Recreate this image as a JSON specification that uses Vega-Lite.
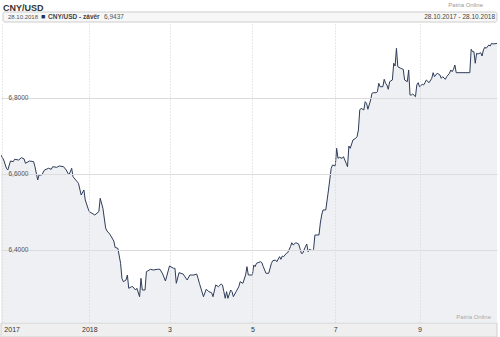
{
  "$schema": "https://vega.github.io/schema/vega-lite/v6.json",
  "width": 496,
  "height": 299,
  "autosize": {"type": "none"},
  "padding": {"left": 1, "top": 24, "right": 3, "bottom": 14},
  "background": "white",
  "config": {"view": {"stroke": null}, "font": "Liberation Sans"},
  "data": {"values": [
    {"d":"2017-10-28","v":6.65},{"d":"2017-10-30","v":6.6368},{"d":"2017-11-01","v":6.615},{"d":"2017-11-02","v":6.6105},
    {"d":"2017-11-04","v":6.6342},{"d":"2017-11-06","v":6.6324},{"d":"2017-11-07","v":6.6387},{"d":"2017-11-10","v":6.6368},
    {"d":"2017-11-12","v":6.6429},{"d":"2017-11-14","v":6.6395},{"d":"2017-11-15","v":6.6282},{"d":"2017-11-18","v":6.6342},
    {"d":"2017-11-21","v":6.6324},{"d":"2017-11-22","v":6.6192},{"d":"2017-11-24","v":6.5842},{"d":"2017-11-25","v":6.5974},
    {"d":"2017-11-27","v":6.5974},{"d":"2017-11-29","v":6.6105},{"d":"2017-12-02","v":6.615},{"d":"2017-12-04","v":6.6124},
    {"d":"2017-12-05","v":6.6192},{"d":"2017-12-08","v":6.6176},{"d":"2017-12-10","v":6.6211},{"d":"2017-12-13","v":6.6192},
    {"d":"2017-12-15","v":6.6105},{"d":"2017-12-17","v":6.5974},{"d":"2017-12-19","v":6.615},{"d":"2017-12-20","v":6.5929},
    {"d":"2017-12-23","v":6.5797},{"d":"2017-12-24","v":6.5755},{"d":"2017-12-26","v":6.5447},{"d":"2017-12-28","v":6.5579},
    {"d":"2017-12-29","v":6.5316},{"d":"2017-12-31","v":6.5097},{"d":"2018-01-01","v":6.5008},{"d":"2018-01-05","v":6.4921},
    {"d":"2018-01-08","v":6.5008},{"d":"2018-01-09","v":6.5361},{"d":"2018-01-11","v":6.5097},{"d":"2018-01-13","v":6.4579},
    {"d":"2018-01-14","v":6.45},{"d":"2018-01-16","v":6.4421},{"d":"2018-01-19","v":6.4237},{"d":"2018-01-20","v":6.4066},
    {"d":"2018-01-22","v":6.4045},{"d":"2018-01-24","v":6.365},{"d":"2018-01-25","v":6.3255},{"d":"2018-01-26","v":6.3166},
    {"d":"2018-01-28","v":6.3211},{"d":"2018-01-29","v":6.3342},{"d":"2018-01-30","v":6.2992},{"d":"2018-02-01","v":6.3034},
    {"d":"2018-02-02","v":6.3034},{"d":"2018-02-04","v":6.2947},{"d":"2018-02-05","v":6.2992},{"d":"2018-02-07","v":6.2771},
    {"d":"2018-02-08","v":6.3255},{"d":"2018-02-09","v":6.2947},{"d":"2018-02-11","v":6.2947},{"d":"2018-02-12","v":6.3429},
    {"d":"2018-02-15","v":6.3492},{"d":"2018-02-17","v":6.3474},{"d":"2018-02-20","v":6.3492},{"d":"2018-02-22","v":6.3492},
    {"d":"2018-02-24","v":6.3368},{"d":"2018-02-26","v":6.3184},{"d":"2018-03-01","v":6.3579},{"d":"2018-03-04","v":6.3518},
    {"d":"2018-03-05","v":6.3518},{"d":"2018-03-06","v":6.3124},{"d":"2018-03-08","v":6.3403},{"d":"2018-03-11","v":6.3368},
    {"d":"2018-03-14","v":6.3211},{"d":"2018-03-16","v":6.3342},{"d":"2018-03-19","v":6.3342},{"d":"2018-03-21","v":6.3368},
    {"d":"2018-03-22","v":6.3255},{"d":"2018-03-23","v":6.3124},{"d":"2018-03-26","v":6.2771},{"d":"2018-03-28","v":6.2966},
    {"d":"2018-03-30","v":6.2903},{"d":"2018-04-01","v":6.2876},{"d":"2018-04-02","v":6.2771},{"d":"2018-04-04","v":6.3079},
    {"d":"2018-04-06","v":6.3034},{"d":"2018-04-08","v":6.3105},{"d":"2018-04-09","v":6.3079},{"d":"2018-04-10","v":6.2903},
    {"d":"2018-04-11","v":6.2729},{"d":"2018-04-12","v":6.2903},{"d":"2018-04-13","v":6.2729},{"d":"2018-04-15","v":6.2947},
    {"d":"2018-04-16","v":6.2903},{"d":"2018-04-17","v":6.2771},{"d":"2018-04-19","v":6.2903},{"d":"2018-04-21","v":6.3034},
    {"d":"2018-04-22","v":6.3166},{"d":"2018-04-24","v":6.3124},{"d":"2018-04-26","v":6.3342},{"d":"2018-04-27","v":6.3561},
    {"d":"2018-04-28","v":6.3342},{"d":"2018-05-01","v":6.3342},{"d":"2018-05-02","v":6.3605},{"d":"2018-05-03","v":6.3561},
    {"d":"2018-05-04","v":6.365},{"d":"2018-05-07","v":6.3692},{"d":"2018-05-08","v":6.3666},{"d":"2018-05-09","v":6.3561},
    {"d":"2018-05-11","v":6.3387},{"d":"2018-05-13","v":6.3387},{"d":"2018-05-15","v":6.365},{"d":"2018-05-16","v":6.3718},
    {"d":"2018-05-18","v":6.3737},{"d":"2018-05-19","v":6.3692},{"d":"2018-05-21","v":6.3824},{"d":"2018-05-22","v":6.3755},
    {"d":"2018-05-23","v":6.3842},{"d":"2018-05-24","v":6.3824},{"d":"2018-05-26","v":6.3913},{"d":"2018-05-27","v":6.3929},
    {"d":"2018-05-29","v":6.4087},{"d":"2018-05-30","v":6.4192},{"d":"2018-05-31","v":6.4132},{"d":"2018-06-02","v":6.4192},
    {"d":"2018-06-04","v":6.4158},{"d":"2018-06-05","v":6.4045},{"d":"2018-06-06","v":6.3913},{"d":"2018-06-07","v":6.3913},
    {"d":"2018-06-09","v":6.4087},{"d":"2018-06-10","v":6.4158},{"d":"2018-06-11","v":6.3955},{"d":"2018-06-12","v":6.4018},
    {"d":"2018-06-14","v":6.3982},{"d":"2018-06-15","v":6.4018},{"d":"2018-06-16","v":6.4395},{"d":"2018-06-19","v":6.4395},
    {"d":"2018-06-20","v":6.4711},{"d":"2018-06-21","v":6.4921},{"d":"2018-06-22","v":6.5053},{"d":"2018-06-24","v":6.5053},
    {"d":"2018-06-26","v":6.5579},{"d":"2018-06-28","v":6.615},{"d":"2018-06-29","v":6.6237},{"d":"2018-07-01","v":6.6211},
    {"d":"2018-07-02","v":6.6676},{"d":"2018-07-03","v":6.6413},{"d":"2018-07-04","v":6.6439},{"d":"2018-07-06","v":6.6413},
    {"d":"2018-07-07","v":6.6455},{"d":"2018-07-09","v":6.6282},{"d":"2018-07-10","v":6.6192},{"d":"2018-07-11","v":6.6737},
    {"d":"2018-07-12","v":6.6676},{"d":"2018-07-14","v":6.6895},{"d":"2018-07-16","v":6.6939},{"d":"2018-07-17","v":6.6982},
    {"d":"2018-07-18","v":6.7158},{"d":"2018-07-19","v":6.7684},{"d":"2018-07-20","v":6.7729},{"d":"2018-07-22","v":6.7684},
    {"d":"2018-07-23","v":6.7903},{"d":"2018-07-24","v":6.7861},{"d":"2018-07-25","v":6.7703},{"d":"2018-07-27","v":6.7947},
    {"d":"2018-07-28","v":6.8124},{"d":"2018-07-29","v":6.8139},{"d":"2018-07-31","v":6.8139},{"d":"2018-08-01","v":6.8166},
    {"d":"2018-08-02","v":6.8387},{"d":"2018-08-03","v":6.8297},{"d":"2018-08-05","v":6.8297},{"d":"2018-08-06","v":6.8492},
    {"d":"2018-08-07","v":6.8387},{"d":"2018-08-08","v":6.8342},{"d":"2018-08-09","v":6.8229},{"d":"2018-08-10","v":6.8429},
    {"d":"2018-08-12","v":6.8474},{"d":"2018-08-13","v":6.8913},{"d":"2018-08-14","v":6.8842},{"d":"2018-08-15","v":6.9308},
    {"d":"2018-08-16","v":6.8824},{"d":"2018-08-18","v":6.8782},{"d":"2018-08-20","v":6.8755},{"d":"2018-08-21","v":6.8474},
    {"d":"2018-08-23","v":6.8429},{"d":"2018-08-24","v":6.8737},{"d":"2018-08-25","v":6.8079},{"d":"2018-08-26","v":6.8079},
    {"d":"2018-08-27","v":6.8105},{"d":"2018-08-29","v":6.8034},{"d":"2018-08-30","v":6.8342},{"d":"2018-08-31","v":6.8403},
    {"d":"2018-09-01","v":6.8297},{"d":"2018-09-03","v":6.8361},{"d":"2018-09-04","v":6.8342},{"d":"2018-09-05","v":6.8403},
    {"d":"2018-09-06","v":6.8474},{"d":"2018-09-08","v":6.8403},{"d":"2018-09-10","v":6.8518},{"d":"2018-09-11","v":6.8666},
    {"d":"2018-09-12","v":6.8561},{"d":"2018-09-14","v":6.865},{"d":"2018-09-16","v":6.8605},{"d":"2018-09-17","v":6.8518},
    {"d":"2018-09-18","v":6.8561},{"d":"2018-09-20","v":6.8492},{"d":"2018-09-21","v":6.8561},{"d":"2018-09-23","v":6.865},
    {"d":"2018-09-24","v":6.8737},{"d":"2018-09-25","v":6.8692},{"d":"2018-09-26","v":6.8755},{"d":"2018-09-27","v":6.8868},
    {"d":"2018-09-28","v":6.8666},{"d":"2018-10-08","v":6.8666},{"d":"2018-10-09","v":6.9282},{"d":"2018-10-10","v":6.9218},
    {"d":"2018-10-11","v":6.9218},{"d":"2018-10-12","v":6.8913},{"d":"2018-10-13","v":6.9176},{"d":"2018-10-14","v":6.9158},
    {"d":"2018-10-16","v":6.9192},{"d":"2018-10-17","v":6.9105},{"d":"2018-10-18","v":6.9263},{"d":"2018-10-19","v":6.9334},
    {"d":"2018-10-20","v":6.9308},{"d":"2018-10-22","v":6.9395},{"d":"2018-10-23","v":6.9368},{"d":"2018-10-24","v":6.9439},
    {"d":"2018-10-25","v":6.9421},{"d":"2018-10-28","v":6.9437}
  ]},
  "encoding": {
    "x": {"field": "d", "type": "temporal",
      "scale": {"type": "utc", "domain": [{"year":2017,"month":10,"date":28,"utc":true},{"year":2018,"month":10,"date":28,"utc":true}]},
      "axis": {"title": null, "zindex": 1,
        "values": [{"year":2017,"month":10,"date":29,"utc":true},{"year":2018,"month":1,"date":1,"utc":true},{"year":2018,"month":3,"date":1,"utc":true},{"year":2018,"month":5,"date":1,"utc":true},{"year":2018,"month":7,"date":1,"utc":true},{"year":2018,"month":9,"date":1,"utc":true}],
        "labelExpr": "(utcmonth(datum.value) == 0 || utcmonth(datum.value) == 9) ? utcFormat(datum.value, '%Y') : '' + (utcmonth(datum.value) + 1)",
        "labelFlush": 8, "labelFlushOffset": -1.5,
        "labelFontSize": 7, "labelColor": "#333", "labelBaseline": "middle", "labelPadding": 6.5,
        "ticks": false, "tickSize": 0, "domain": false,
        "grid": true, "gridColor": "#d2d2d2", "gridDash": [1, 2], "gridWidth": 1}},
    "y": {"field": "v", "type": "quantitative",
      "scale": {"domain": [6.2079, 6.9947], "zero": false, "nice": false},
      "axis": {"title": null, "zindex": 1, "values": [6.4, 6.6, 6.8],
        "labelExpr": "replace(format(datum.value, '.4f'), '.', ',')",
        "labelAlign": "left", "labelPadding": -7, "tickSize": 0, "ticks": false, "domain": false,
        "labelFontSize": 6.5, "labelColor": "#555", "labelBaseline": "middle",
        "grid": true, "gridColor": "#dcdcdc", "gridWidth": 1}}
  },
  "layer": [
    {"transform": [{"filter": "datum.v == 6.9437"}],
     "mark": {"type": "rect", "fill": "#f7f7f7", "stroke": "#cdcdcd", "strokeWidth": 1, "cornerRadius": 2, "xOffset": 2, "yOffset": -12, "y2Offset": -2, "clip": false},
     "encoding": {
       "x": {"datum": {"year":2017,"month":10,"date":28,"utc":true}, "type": "temporal"},
       "x2": {"datum": {"year":2018,"month":10,"date":28,"utc":true}},
       "y": {"datum": 6.9947, "type": "quantitative"},
       "y2": {"datum": 6.9947}}},
    {"transform": [{"filter": "datum.v == 6.9437"}],
     "mark": {"type": "rect", "fill": "#efefef", "stroke": "#cfcfcf", "strokeWidth": 1, "y2Offset": 14, "clip": false},
     "encoding": {
       "x": {"datum": {"year":2017,"month":10,"date":28,"utc":true}, "type": "temporal"},
       "x2": {"datum": {"year":2018,"month":10,"date":28,"utc":true}},
       "y": {"datum": 6.2079, "type": "quantitative"},
       "y2": {"datum": 6.2079}}},
    {"mark": {"type": "area", "color": "#e7e9ee", "clip": true, "line": {"color": "#2e3c58", "strokeWidth": 1}}},
    {"transform": [{"filter": "datum.v == 6.9437"}],
     "mark": {"type": "text", "text": "CNY/USD", "align": "left", "baseline": "middle", "dx": 2, "dy": -16, "fontSize": 9, "fontWeight": "bold", "color": "#333"},
     "encoding": {"x": {"datum": {"year":2017,"month":10,"date":28,"utc":true}, "type": "temporal"}, "y": {"datum": 6.9947, "type": "quantitative"}}},
    {"transform": [{"filter": "datum.v == 6.9437"}],
     "mark": {"type": "text", "text": "Patria Online", "align": "right", "baseline": "middle", "dx": -14, "dy": -19, "fontSize": 6, "color": "#999"},
     "encoding": {"x": {"datum": {"year":2018,"month":10,"date":28,"utc":true}, "type": "temporal"}, "y": {"datum": 6.9947, "type": "quantitative"}}},
    {"transform": [{"filter": "datum.v == 6.9437"}],
     "mark": {"type": "text", "text": "28.10.2018", "align": "left", "baseline": "middle", "dx": 7, "dy": -7, "fontSize": 6, "color": "#555"},
     "encoding": {"x": {"datum": {"year":2017,"month":10,"date":28,"utc":true}, "type": "temporal"}, "y": {"datum": 6.9947, "type": "quantitative"}}},
    {"transform": [{"filter": "datum.v == 6.9437"}],
     "mark": {"type": "text", "text": "■", "align": "left", "baseline": "middle", "dx": 40, "dy": -7, "fontSize": 7, "color": "#1f2f5a"},
     "encoding": {"x": {"datum": {"year":2017,"month":10,"date":28,"utc":true}, "type": "temporal"}, "y": {"datum": 6.9947, "type": "quantitative"}}},
    {"transform": [{"filter": "datum.v == 6.9437"}],
     "mark": {"type": "text", "text": "CNY/USD - závěr", "align": "left", "baseline": "middle", "dx": 47, "dy": -7, "fontSize": 6.5, "fontWeight": "bold", "color": "#444"},
     "encoding": {"x": {"datum": {"year":2017,"month":10,"date":28,"utc":true}, "type": "temporal"}, "y": {"datum": 6.9947, "type": "quantitative"}}},
    {"transform": [{"filter": "datum.v == 6.9437"}],
     "mark": {"type": "text", "text": "6,9437", "align": "left", "baseline": "middle", "dx": 103, "dy": -7, "fontSize": 6.5, "color": "#555"},
     "encoding": {"x": {"datum": {"year":2017,"month":10,"date":28,"utc":true}, "type": "temporal"}, "y": {"datum": 6.9947, "type": "quantitative"}}},
    {"transform": [{"filter": "datum.v == 6.9437"}],
     "mark": {"type": "text", "text": "28.10.2017 - 28.10.2018", "align": "right", "baseline": "middle", "dx": -2, "dy": -7, "fontSize": 6.5, "color": "#444"},
     "encoding": {"x": {"datum": {"year":2018,"month":10,"date":28,"utc":true}, "type": "temporal"}, "y": {"datum": 6.9947, "type": "quantitative"}}},
    {"transform": [{"filter": "datum.v == 6.9437"}],
     "mark": {"type": "text", "text": "Patria Online", "align": "right", "baseline": "middle", "dx": -6, "dy": -6, "fontSize": 6, "color": "#aaa"},
     "encoding": {"x": {"datum": {"year":2018,"month":10,"date":28,"utc":true}, "type": "temporal"}, "y": {"datum": 6.2079, "type": "quantitative"}}}
  ]
}
